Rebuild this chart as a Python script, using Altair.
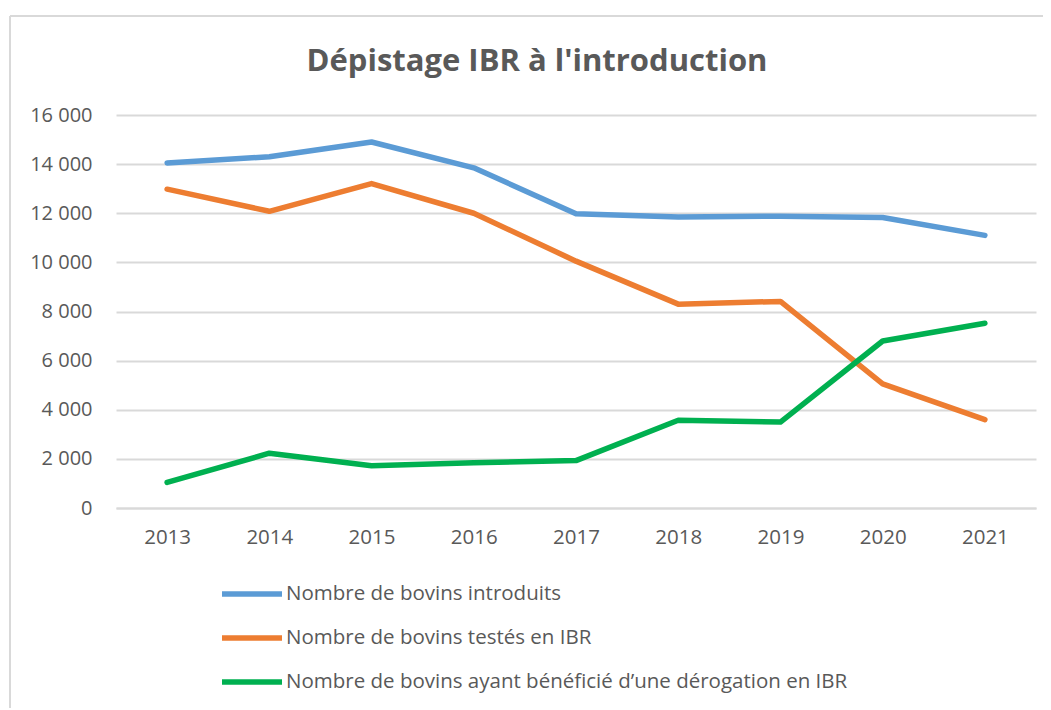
import altair as alt
import pandas as pd

years = ["2013", "2014", "2015", "2016", "2017", "2018", "2019", "2020", "2021"]
series_names = [
    "Nombre de bovins introduits",
    "Nombre de bovins testés en IBR",
    "Nombre de bovins ayant bénéficié d’une dérogation en IBR",
]
introduits = [14050, 14300, 14900, 13850, 11980, 11850, 11880, 11830, 11100]
testes = [12980, 12080, 13210, 12000, 10050, 8300, 8410, 5050, 3600]
derogation = [1040, 2230, 1720, 1840, 1930, 3570, 3500, 6800, 7520]
colors = ["#5B9BD5", "#ED7D31", "#00B050"]
y_ticks = [0, 2000, 4000, 6000, 8000, 10000, 12000, 14000, 16000]

rows = []
for name, vals in zip(series_names, [introduits, testes, derogation]):
    for yr, v in zip(years, vals):
        rows.append({"annee": yr, "serie": name, "valeur": v})
df = pd.DataFrame(rows)

FONT = "Open Sans"
TXT = "#595959"
FRAME = "#D9D9D9"

lines = (
    alt.Chart(df)
    .mark_line(strokeWidth=5.5, strokeCap="round", strokeJoin="round")
    .encode(
        x=alt.X(
            "annee:N",
            sort=years,
            scale=alt.Scale(type="point", padding=0.5),
            axis=alt.Axis(
                title=None,
                labelAngle=0,
                ticks=False,
                domain=True,
                domainColor="#D9D9D9",
                domainWidth=2,
                grid=False,
                labelPadding=19,
                labelFontSize=20.5,
                labelFont=FONT,
                labelColor=TXT,
            ),
        ),
        y=alt.Y(
            "valeur:Q",
            scale=alt.Scale(domain=[0, 16000], nice=False),
            axis=alt.Axis(
                title=None,
                values=y_ticks,
                ticks=False,
                domain=False,
                grid=True,
                gridColor="#D9D9D9",
                gridWidth=2,
                labelPadding=24,
                labelFontSize=20,
                labelFont=FONT,
                labelColor=TXT,
                labelExpr="datum.value == 0 ? '0' : format(datum.value / 1000, 'd') + ' 000'",
            ),
        ),
        color=alt.Color(
            "serie:N",
            sort=series_names,
            scale=alt.Scale(domain=series_names, range=colors),
            legend=alt.Legend(
                title=None,
                orient="none",
                legendX=103,
                legendY=446,
                direction="vertical",
                symbolType="stroke",
                symbolSize=3600,
                symbolStrokeWidth=5.5,
                labelFontSize=20.5,
                labelFont=FONT,
                labelColor=TXT,
                labelOffset=1,
                rowPadding=0,
                labelLimit=800,
            ),
        ),
    )
)

frame_df = pd.DataFrame({"k": [0]})
frame_top = (
    alt.Chart(frame_df)
    .mark_rule(color=FRAME, strokeWidth=2)
    .encode(x=alt.value(-106), x2=alt.value(935), y=alt.value(-99))
)
frame_left = (
    alt.Chart(frame_df)
    .mark_rule(color=FRAME, strokeWidth=2)
    .encode(x=alt.value(-106), y=alt.value(-99), y2=alt.value(600))
)

chart = (
    alt.layer(frame_top, frame_left, lines)
    .properties(
        width=920,
        height=393,
        title=alt.TitleParams(
            "Dépistage IBR à l'introduction",
            font=FONT,
            fontSize=31,
            fontWeight="bold",
            color=TXT,
            anchor="middle",
            dx=-39,
            offset=-63,
        ),
        autosize=alt.AutoSizeParams(type="none"),
        padding={"left": 108, "top": 107, "right": 7, "bottom": 200},
    )
    .configure_view(stroke=None)
)

chart.save("out.html", embed_options={"renderer": "svg", "actions": False})
